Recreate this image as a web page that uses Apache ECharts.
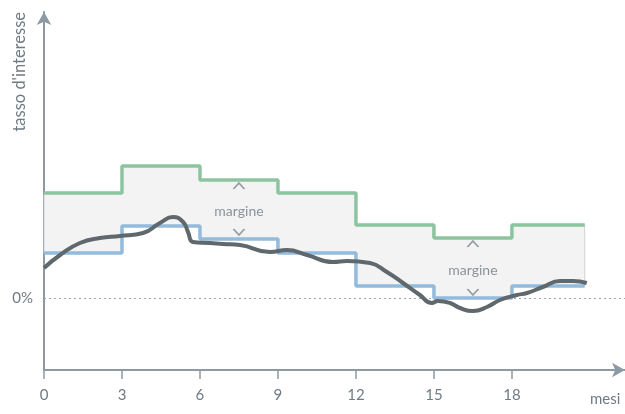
<!DOCTYPE html>
<html><head><meta charset="utf-8">
<script src="https://cdn.jsdelivr.net/npm/echarts@6/dist/echarts.min.js"></script>
<style>html,body{margin:0;padding:0;background:#fff}#c{width:625px;height:414px}</style>
</head><body><div id="c"></div>
<script>
// step boundaries (months) and values (arbitrary rate units, 0 = 0%)
const stepX = [0, 3, 6, 9, 12, 15, 18, 20.8];
const upperRate = [5.25, 6.6, 5.9, 5.25, 3.65, 3.0, 3.65, 3.65];
const lowerRate = [2.25, 3.6, 2.95, 2.25, 0.6, 0.0, 0.6, 0.6];
// market rate curve
const curveX = [0, 0.62, 1.38, 2.15, 2.92, 3.81, 4.46, 4.96, 5.35, 5.54, 5.73, 6.38, 6.88, 7.54, 8.69, 9.35, 10.12, 11.12, 11.65, 12.54, 13.19, 13.81, 14.46, 14.92, 15.15, 15.62, 16.0, 16.5, 17.04, 17.54, 18.19, 18.58, 19.19, 19.85, 20.35, 20.88];
const curveY = [1.5, 2.15, 2.75, 3.0, 3.1, 3.25, 3.75, 4.05, 3.8, 3.3, 2.8, 2.75, 2.7, 2.65, 2.3, 2.4, 2.15, 1.8, 1.85, 1.75, 1.3, 0.75, 0.15, -0.25, -0.15, -0.25, -0.5, -0.65, -0.45, -0.1, 0.15, 0.25, 0.55, 0.85, 0.85, 0.75];
const xTicks = [0, 3, 6, 9, 12, 15, 18];
// margin annotations: [x, upArrowY, labelY, downArrowY]
const marginNotes = [[7.5, 5.6, 4.35, 3.3], [16.5, 2.7, 1.4, 0.3]];

const font = 'Lato, "Noto Sans", sans-serif';
const axisCol = '#8d9aa3';
const textCol = '#6f7b83';

const pair = (xs, ys) => xs.map((x, i) => [x, ys[i]]);
const chev = 'path://M0,6 L5,0 L10,6';

function stepPts(ys) {
  const pts = [];
  for (let i = 0; i < stepX.length - 1; i++) {
    pts.push([stepX[i], ys[i]]);
    pts.push([stepX[i + 1], ys[i]]);
  }
  return pts;
}

const chart = echarts.init(document.getElementById('c'), null, {renderer: 'canvas'});
chart.setOption({
  animation: false,
  grid: {left: 44, right: 0, top: 12, bottom: 44},
  xAxis: {
    type: 'value', min: 0, max: 22.35,
    axisLine: {onZero: false, lineStyle: {color: axisCol, width: 2}, symbol: ['none', 'arrow'], symbolSize: [11, 13]},
    axisTick: {customValues: xTicks, length: 9, lineStyle: {color: axisCol, width: 1.5}},
    axisLabel: {customValues: xTicks, color: textCol, fontFamily: font, fontSize: 15, margin: 18},
    splitLine: {show: false}
  },
  yAxis: {
    type: 'value', min: -3.6, max: 14.3,
    axisLine: {show: true, onZero: false, lineStyle: {color: axisCol, width: 2}, symbol: ['none', 'arrow'], symbolSize: [11, 13]},
    axisTick: {show: false},
    axisLabel: {customValues: [0], formatter: () => '0%', color: textCol, fontFamily: font, fontSize: 15, margin: 11},
    splitLine: {show: false}
  },
  graphic: [
    {type: 'text', x: 20, y: 12, rotation: Math.PI / 2,
     style: {text: "tasso d'interesse", fill: textCol, font: '16.5px ' + font, align: 'right', verticalAlign: 'middle'}},
    {type: 'text', x: 590, y: 399,
     style: {text: 'mesi', fill: textCol, font: '15px ' + font, align: 'left', verticalAlign: 'middle'}}
  ],
  series: [
    {type: 'custom', z: 1, silent: true, data: [0],
     renderItem: function (params, api) {
       const up = stepPts(upperRate).map(p => api.coord(p));
       const lo = stepPts(lowerRate).reverse().map(p => api.coord(p));
       return {type: 'polygon', shape: {points: up.concat(lo)},
               style: {fill: '#f3f3f3', stroke: '#c9c9c9', lineWidth: 0.8}};
     }},
    {type: 'line', data: pair(stepX, lowerRate), step: 'end', symbol: 'none',
     lineStyle: {color: '#93bbdb', width: 3.5}, z: 3,
     markLine: {symbol: 'none', silent: true, label: {show: false}, z: 2,
       lineStyle: {type: [2, 3], color: '#9aa3a9', width: 1.2},
       data: [{yAxis: 0}]}},
    {type: 'line', data: pair(stepX, upperRate), step: 'end', symbol: 'none',
     lineStyle: {color: '#8dc4a0', width: 3.5}, z: 3},
    {type: 'scatter', symbol: 'circle', symbolSize: 2, z: 4,
     itemStyle: {color: 'rgba(0,0,0,0)'},
     data: marginNotes.map(m => [m[0], m[2]]),
     label: {show: true, position: 'inside', formatter: 'margine', color: textCol, fontFamily: font, fontSize: 14}},
    {type: 'scatter', symbol: chev, symbolSize: [11, 6], z: 4,
     itemStyle: {color: 'none', borderColor: '#7d8990', borderWidth: 1.5},
     data: marginNotes.map(m => [m[0], m[1]])},
    {type: 'scatter', symbol: chev, symbolRotate: 180, symbolSize: [11, 6], z: 4,
     itemStyle: {color: 'none', borderColor: '#7d8990', borderWidth: 1.5},
     data: marginNotes.map(m => [m[0], m[3]])},
    {type: 'line', data: pair(curveX, curveY), smooth: 0.5, symbol: 'none',
     lineStyle: {color: '#5f686c', width: 4}, z: 5}
  ]
});
</script></body></html>
